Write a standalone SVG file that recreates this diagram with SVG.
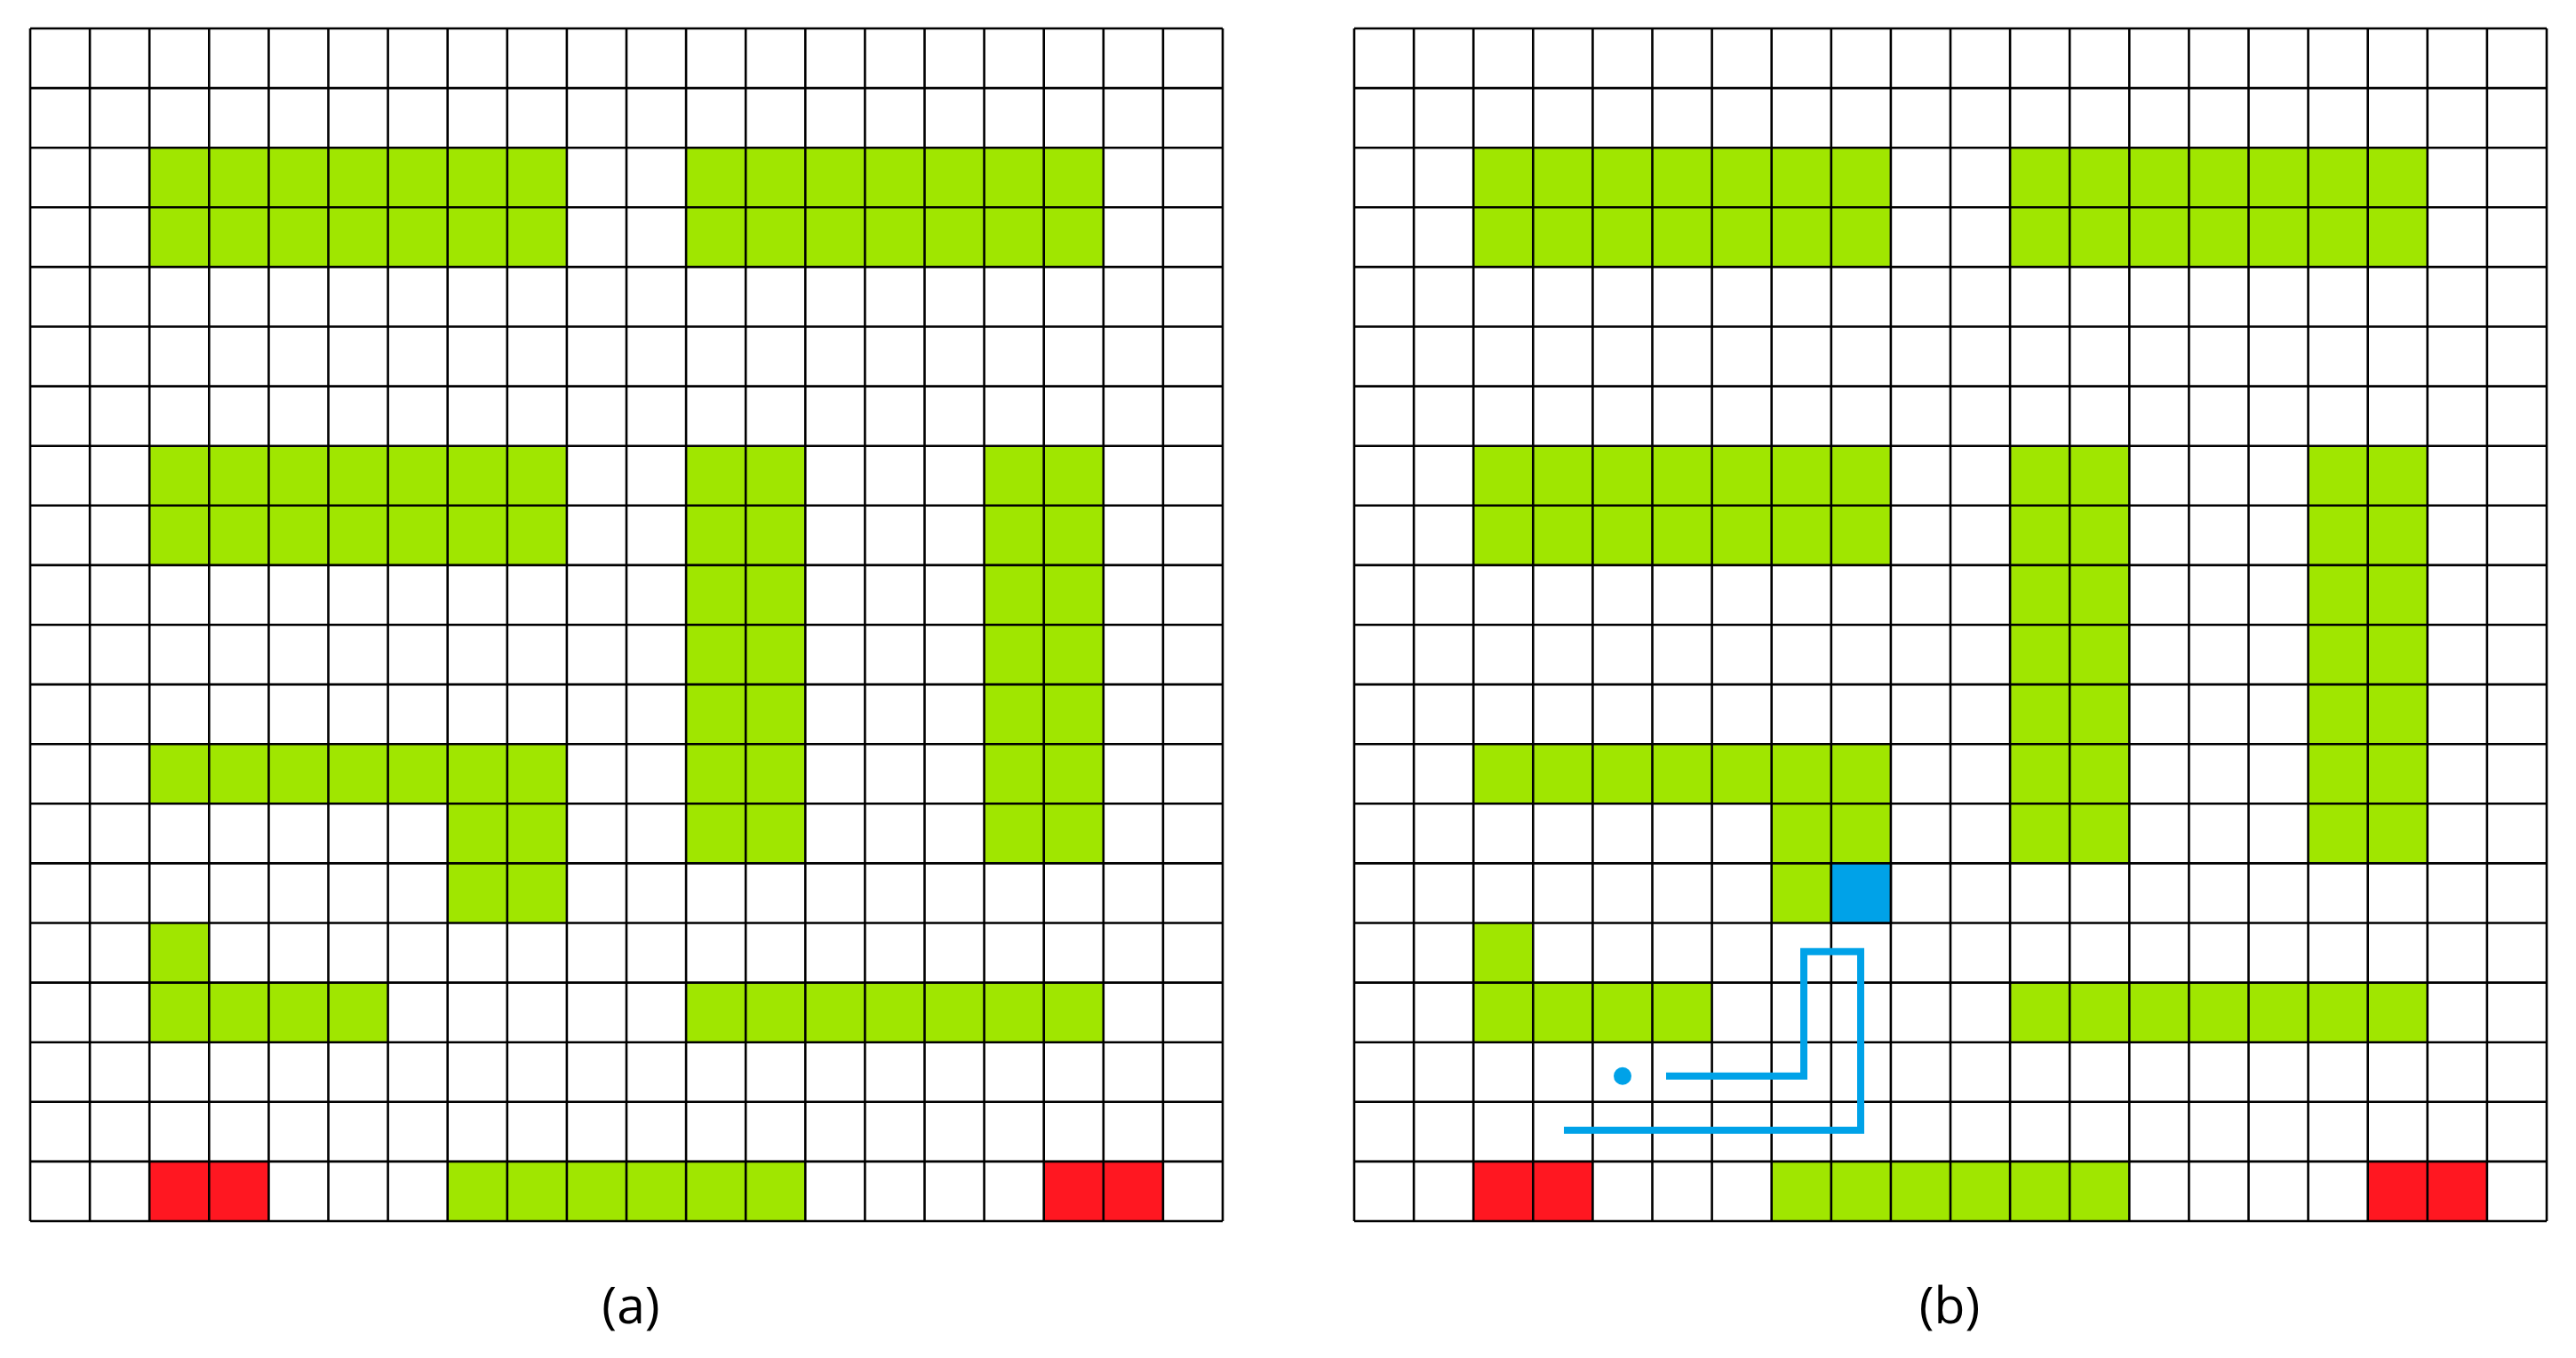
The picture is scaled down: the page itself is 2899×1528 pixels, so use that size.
<svg xmlns="http://www.w3.org/2000/svg" xmlns:xlink="http://www.w3.org/1999/xlink" width="2899" height="1528" viewBox="0 0 2899 1528">
<style>
.g{fill:#A0E600}
.r{fill:#FF1721}
.b{fill:#00A2E8}
.grid{fill:none;stroke:#000;stroke-width:2.6}
.lbl{font-family:"Open Sans","Liberation Sans",sans-serif;font-size:57px;fill:#000;text-anchor:middle}
.route{fill:none;stroke:#00A2E8;stroke-width:8;stroke-linejoin:miter;stroke-linecap:butt}
</style>
<defs>
<g id="board">
<rect x="0" y="0" width="1342" height="1342" fill="#fff"/>
<rect class="g" x="134.2" y="134.2" width="469.7" height="134.2"/>
<rect class="g" x="738.1" y="134.2" width="469.7" height="134.2"/>
<rect class="g" x="134.2" y="469.7" width="469.7" height="134.2"/>
<rect class="g" x="738.1" y="469.7" width="134.2" height="469.7"/>
<rect class="g" x="1073.6" y="469.7" width="134.2" height="469.7"/>
<rect class="g" x="134.2" y="805.2" width="469.7" height="67.1"/>
<rect class="g" x="469.7" y="872.3" width="134.2" height="134.2"/>
<rect class="g" x="134.2" y="1006.5" width="67.1" height="134.2"/>
<rect class="g" x="134.2" y="1073.6" width="268.4" height="67.1"/>
<rect class="g" x="738.1" y="1073.6" width="469.7" height="67.1"/>
<rect class="g" x="469.7" y="1274.9" width="402.6" height="67.1"/>
<rect class="r" x="134.2" y="1274.9" width="134.2" height="67.1"/>
<rect class="r" x="1140.7" y="1274.9" width="134.2" height="67.1"/>
<path class="grid" d="M0 0H1342M0 67.1H1342M0 134.2H1342M0 201.3H1342M0 268.4H1342M0 335.5H1342M0 402.6H1342M0 469.7H1342M0 536.8H1342M0 603.9H1342M0 671H1342M0 738.1H1342M0 805.2H1342M0 872.3H1342M0 939.4H1342M0 1006.5H1342M0 1073.6H1342M0 1140.7H1342M0 1207.8H1342M0 1274.9H1342M0 1342H1342M0 0V1342M67.1 0V1342M134.2 0V1342M201.3 0V1342M268.4 0V1342M335.5 0V1342M402.6 0V1342M469.7 0V1342M536.8 0V1342M603.9 0V1342M671 0V1342M738.1 0V1342M805.2 0V1342M872.3 0V1342M939.4 0V1342M1006.5 0V1342M1073.6 0V1342M1140.7 0V1342M1207.8 0V1342M1274.9 0V1342M1342 0V1342"/>
</g>
</defs>
<rect width="2899" height="1528" fill="#fff"/>
<g id="panel-a">
<use xlink:href="#board" href="#board" transform="translate(34,32)"/>
<text class="lbl" x="710" y="1489">(a)</text>
</g>
<g id="panel-b">
<use xlink:href="#board" href="#board" transform="translate(1524,32)"/>
<rect class="b" x="2060.8" y="971.4" width="67.1" height="67.1" stroke="#000" stroke-width="2.6"/>
<path class="route" d="M1875 1210.7H2030V1070.7H2094V1271.7H1760"/>
<circle cx="1826" cy="1210.7" r="10" fill="#00A2E8"/>
<text class="lbl" x="2194" y="1489">(b)</text>
</g>
</svg>
